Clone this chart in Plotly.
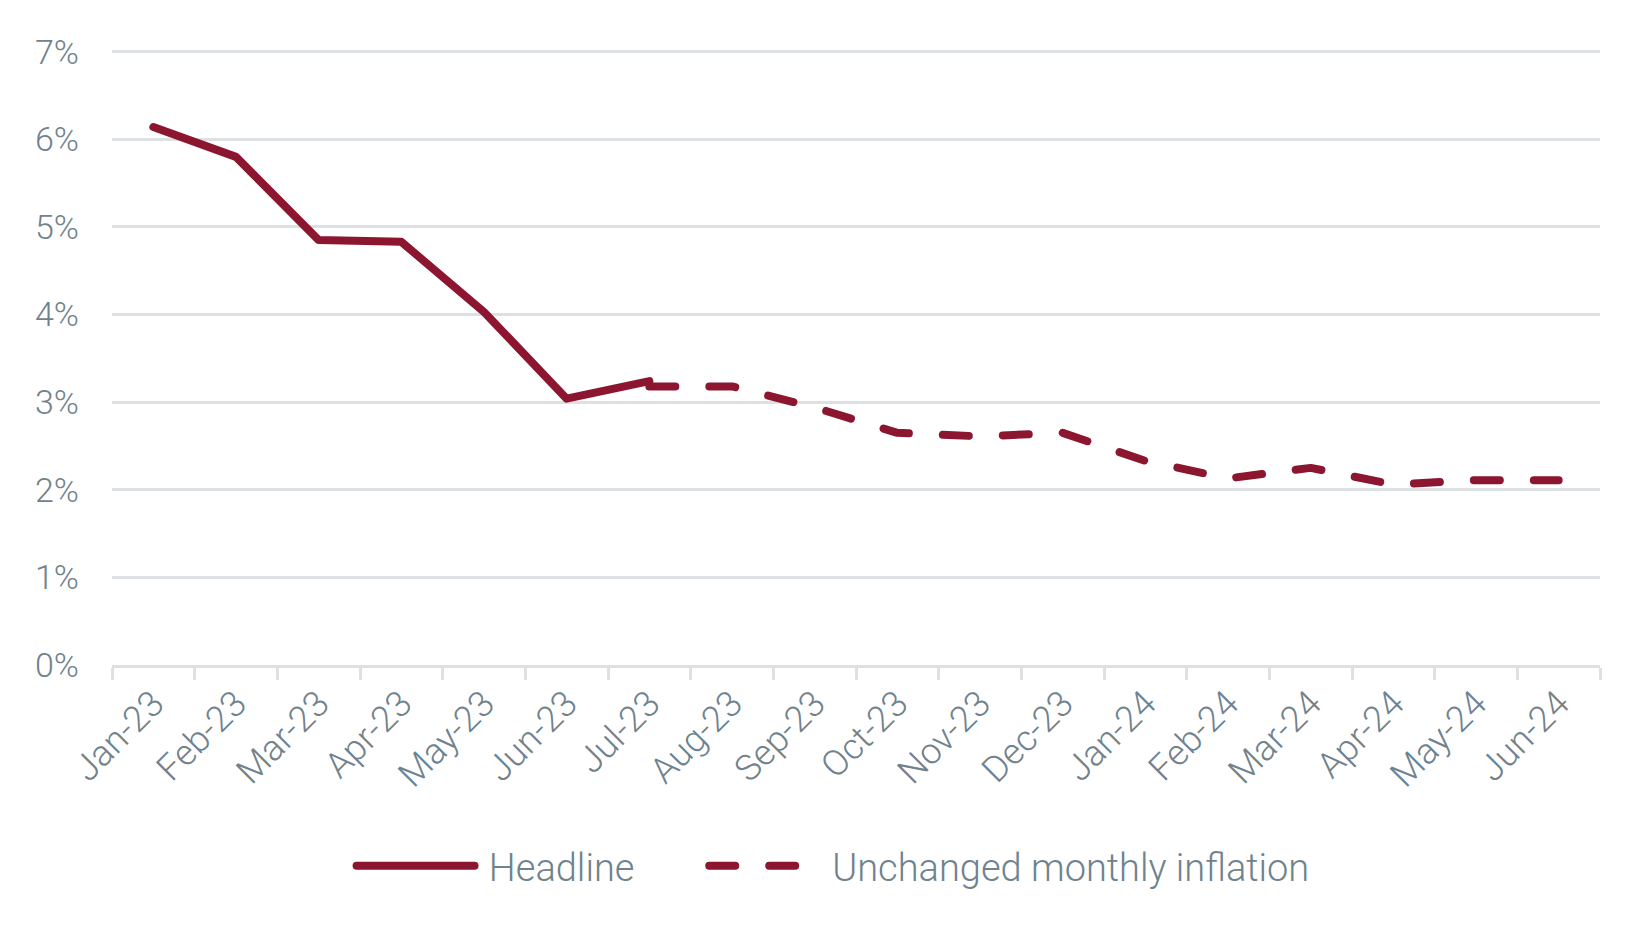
import plotly.graph_objects as go

# Months on the x axis
months = ["Jan-23", "Feb-23", "Mar-23", "Apr-23", "May-23", "Jun-23", "Jul-23",
          "Aug-23", "Sep-23", "Oct-23", "Nov-23", "Dec-23", "Jan-24", "Feb-24",
          "Mar-24", "Apr-24", "May-24", "Jun-24"]

# Headline inflation (%), Jan-23 to Jul-23
headline_months = months[:7]
headline = [6.14, 5.80, 4.85, 4.83, 4.03, 3.04, 3.24]

# Projection with unchanged monthly inflation (%), Jul-23 to Jun-24
proj_months = months[6:]
unchanged = [3.18, 3.18, 2.94, 2.65, 2.61, 2.65, 2.33, 2.13, 2.25, 2.06, 2.11, 2.11]

# y axis ticks
y_ticks = [0, 1, 2, 3, 4, 5, 6, 7]
y_labels = ["0%", "1%", "2%", "3%", "4%", "5%", "6%", "7%"]

line_col = "#8c1530"
text_col = "#6f828d"
grid_col = "#dde1e4"
font_fam = "Roboto, 'Open Sans', sans-serif"

fig = go.Figure()

fig.add_trace(go.Scatter(
    x=headline_months, y=headline, name="\u00a0Headline", mode="lines",
    line=dict(color=line_col, width=8), legend="legend",
))

fig.add_trace(go.Scatter(
    x=proj_months, y=unchanged, name="Unchanged monthly inflation", mode="lines",
    line=dict(color=line_col, width=8, dash="26px,34px"), legend="legend2",
))

leg_font = dict(size=38, color=text_col, family=font_fam, weight=300)

fig.update_layout(
    width=1650, height=929,
    margin=dict(l=112, r=50, t=50, b=264, autoexpand=False),
    plot_bgcolor="white", paper_bgcolor="white",
    font=dict(family=font_fam, color=text_col, size=32, weight=300),
    showlegend=True,
    legend=dict(orientation="h", x=0.161, xanchor="left", y=-0.327, yanchor="middle",
                font=leg_font, itemwidth=118),
    legend2=dict(orientation="h", x=0.398, xanchor="left", y=-0.327, yanchor="middle",
                 font=leg_font, itemwidth=118),
)

fig.update_xaxes(
    type="category", categoryorder="array", categoryarray=months,
    tickangle=-45, tickfont=dict(size=36), automargin=False,
    showgrid=False, showline=True, linecolor=grid_col, linewidth=3,
    ticks="outside", tickson="boundaries", ticklen=12, tickcolor=grid_col, tickwidth=3,
    range=[-0.5, len(months) - 0.5],
)

fig.update_yaxes(
    range=[0, 7.02], tickvals=y_ticks, ticktext=y_labels,
    tickfont=dict(size=34), automargin=False,
    showgrid=True, gridcolor=grid_col, gridwidth=3,
    zeroline=False, showline=False, ticks="", ticklabelstandoff=32,
)

# no page margin, round line caps like the original
page_css = ("var s=document.createElement('style');"
            "s.innerHTML='body{margin:0;overflow:hidden}"
            ".js-line,.legendlines path{stroke-linecap:round;stroke-linejoin:round}';"
            "document.head.appendChild(s);")

fig.write_html("out.html", post_script=page_css, config={"displayModeBar": False})
